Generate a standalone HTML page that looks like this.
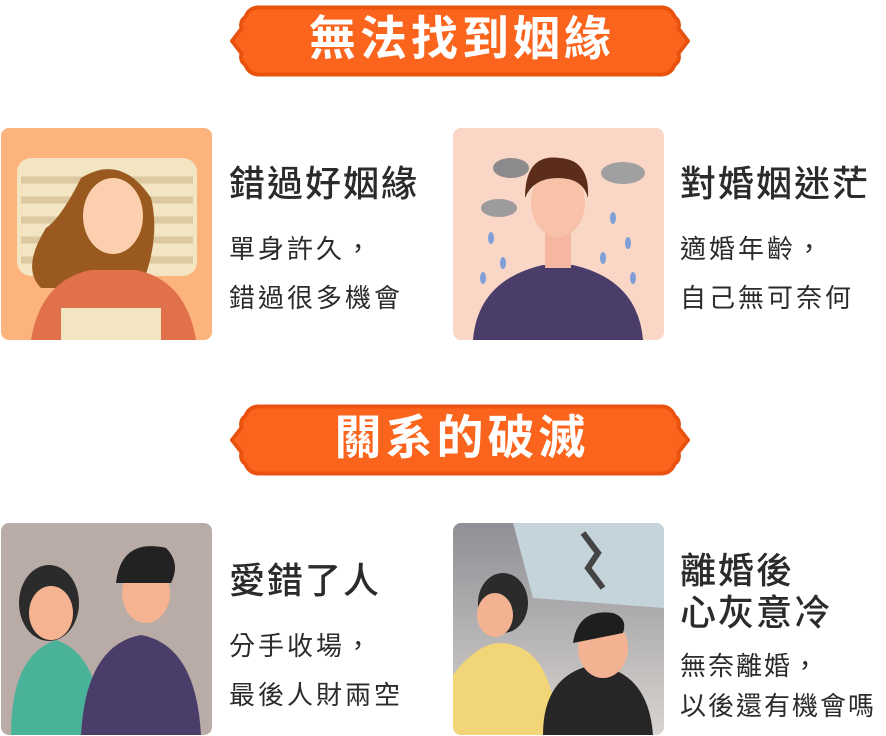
<!DOCTYPE html>
<html><head><meta charset="utf-8"><style>
body{margin:0;width:886px;height:736px;background:#fff;position:relative;overflow:hidden;font-family:"Liberation Sans","Noto Sans CJK TC",sans-serif;}
.banner{position:absolute;left:230px;width:460px;height:82px}
.bt{position:absolute;left:0;width:460px;text-align:center;top:10px;color:#fff;font-weight:bold;font-size:47px;line-height:58px;letter-spacing:4px;text-indent:4px}
.card{position:absolute;width:211px;height:212px;border-radius:8px;overflow:hidden}
.t{position:absolute;color:#2b2b2b;font-size:36px;line-height:42px;font-weight:500;letter-spacing:2px}
.s{position:absolute;color:#2b2b2b;font-size:26px;line-height:49px;letter-spacing:3px}
</style></head><body>
<svg width="0" height="0" style="position:absolute"><defs>
<path id="bn" d="M20,6 H440 q10,0 14,10 q6,4 4,12 l10,13 l-10,13 q2,8 -4,12 q-4,10 -14,10 H20 q-10,0 -14,-10 q-6,-4 -4,-12 l-10,-13 l10,-13 q-2,-8 4,-12 q4,-10 14,-10Z"/>
</defs></svg>

<div class="banner" style="top:0">
<svg width="460" height="82" viewBox="-10 0 480 82"><use href="#bn" fill="#fa641c" stroke="#e8520e" stroke-width="4"/></svg>
<div class="bt">無法找到姻緣</div></div>

<div class="card" style="left:1px;top:128px;background:#fdb37c">
<svg width="211" height="212">
<rect x="16" y="30" width="180" height="118" rx="14" fill="#f3e4c2"/>
<g stroke="#dcc9a1" stroke-width="7"><line x1="20" y1="52" x2="192" y2="52"/><line x1="20" y1="72" x2="192" y2="72"/><line x1="20" y1="92" x2="192" y2="92"/><line x1="20" y1="112" x2="192" y2="112"/><line x1="20" y1="132" x2="192" y2="132"/></g>
<path d="M80,50 q40,-25 70,20 q10,40 -10,90 l-100,0 q-20,-20 5,-60 q15,-10 35,-50z" fill="#9a5a1f"/>
<ellipse cx="112" cy="88" rx="30" ry="38" fill="#fcd0ae"/>
<path d="M30,212 q10,-60 60,-70 l45,0 q50,10 60,70z" fill="#e0714a"/>
<rect x="60" y="180" width="100" height="32" fill="#f3e4c2"/>
</svg></div>
<div class="t" style="left:229px;top:163px">錯過好姻緣</div>
<div class="s" style="left:229px;top:225px">單身許久，<br>錯過很多機會</div>

<div class="card" style="left:453px;top:128px;background:#f9d6c6">
<svg width="211" height="212">
<ellipse cx="58" cy="40" rx="18" ry="10" fill="#8b8b8b"/><ellipse cx="46" cy="80" rx="18" ry="9" fill="#9c9c9c"/><ellipse cx="170" cy="45" rx="22" ry="11" fill="#a0a0a0"/>
<g fill="#7f9fd6"><ellipse cx="38" cy="110" rx="3" ry="6"/><ellipse cx="50" cy="135" rx="3" ry="6"/><ellipse cx="30" cy="150" rx="3" ry="6"/><ellipse cx="160" cy="90" rx="3" ry="6"/><ellipse cx="175" cy="115" rx="3" ry="6"/><ellipse cx="150" cy="130" rx="3" ry="6"/><ellipse cx="180" cy="150" rx="3" ry="6"/></g>
<path d="M20,212 q5,-60 70,-75 l30,0 q65,15 70,75z" fill="#4a3d6a"/>
<rect x="92" y="100" width="26" height="40" fill="#f6b7a0"/>
<ellipse cx="105" cy="75" rx="27" ry="34" fill="#f8c2a8"/>
<path d="M72,70 q0,-45 35,-40 q30,2 28,40 q-5,-20 -30,-20 q-25,0 -33,20z" fill="#5b2d1a"/>
</svg></div>
<div class="t" style="left:680px;top:163px">對婚姻迷茫</div>
<div class="s" style="left:680px;top:225px">適婚年齡，<br>自己無可奈何</div>

<div class="banner" style="top:399px">
<svg width="460" height="82" viewBox="-10 0 480 82"><use href="#bn" fill="#fa641c" stroke="#e8520e" stroke-width="4"/></svg>
<div class="bt">關系的破滅</div></div>

<div class="card" style="left:1px;top:523px;background:#b9aba6">
<svg width="211" height="212">
<path d="M10,212 q0,-80 45,-95 q45,15 45,95z" fill="#4bb29a"/>
<ellipse cx="48" cy="80" rx="30" ry="38" fill="#2b2b2b"/><ellipse cx="50" cy="90" rx="22" ry="27" fill="#f6b391"/>
<path d="M80,212 q5,-90 60,-100 q55,10 60,100z" fill="#4a3d6a"/>
<ellipse cx="145" cy="70" rx="24" ry="30" fill="#f6b391"/>
<path d="M115,60 q5,-45 50,-35 q15,15 5,35z" fill="#222"/>
</svg></div>
<div class="t" style="left:229px;top:560px">愛錯了人</div>
<div class="s" style="left:229px;top:622px">分手收場，<br>最後人財兩空</div>

<div class="card" style="left:453px;top:523px;background:linear-gradient(#8f8f95,#d8d4d0)">
<svg width="211" height="212">
<polygon points="60,0 211,0 211,85 80,75" fill="#c5d3da"/>
<path d="M130,10 l15,20 l-10,15 l15,20" stroke="#444" stroke-width="6" fill="none"/>
<path d="M0,212 l0,-60 q30,-40 60,-30 q40,10 45,90z" fill="#f2d577"/>
<ellipse cx="50" cy="80" rx="25" ry="30" fill="#2b2b2b"/><ellipse cx="42" cy="92" rx="18" ry="22" fill="#f3b291"/>
<path d="M90,212 q0,-60 50,-70 q55,5 60,70z" fill="#262626"/>
<ellipse cx="150" cy="125" rx="25" ry="30" fill="#f3b291"/>
<path d="M120,120 q5,-35 40,-30 q15,5 10,20z" fill="#1e1e1e"/>
</svg></div>
<div class="t" style="left:680px;top:550px">離婚後<br>心灰意冷</div>
<div class="s" style="left:680px;top:646px;line-height:40px;letter-spacing:2px">無奈離婚，<br>以後還有機會嗎</div>
</body></html>
